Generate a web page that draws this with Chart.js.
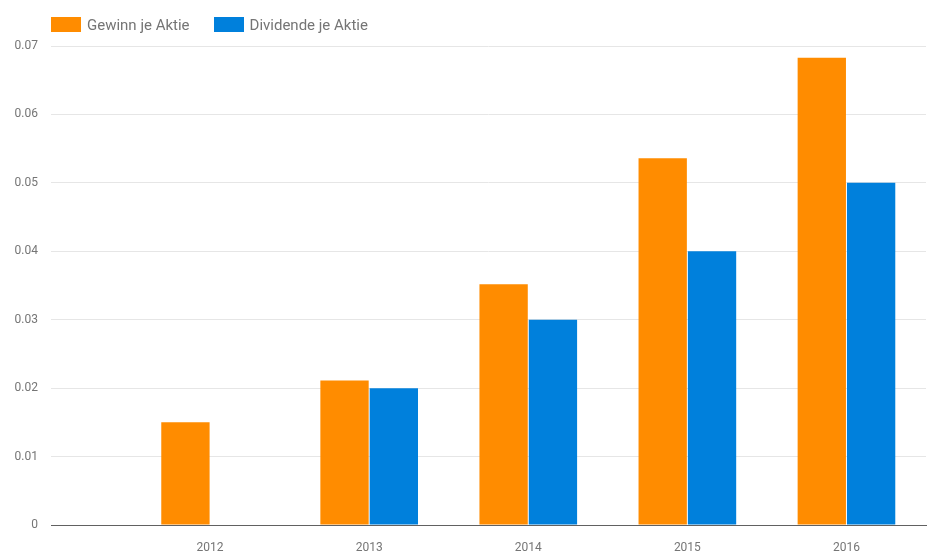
<!DOCTYPE html>
<html>
<head>
<meta charset="utf-8">
<script src="https://cdn.jsdelivr.net/npm/chart.js@4"></script>
<style>
  body { margin: 0; background: #fff; }
  #wrap { position: relative; width: 949px; height: 552px; }
  #legend { position: absolute; left: 51px; top: 17px; font: 15px Roboto, sans-serif; color: #757575; display: flex; }
  .item { display: flex; align-items: center; margin-right: 24px; height: 15px; }
  .box { display: block; flex: none; width: 30px; height: 15px; margin-right: 6px; }
</style>
</head>
<body>
<div id="wrap">
  <canvas id="barChart" width="949" height="552"></canvas>
  <div id="legend"></div>
</div>
<script>
// chart data
let years = [2012, 2013, 2014, 2015, 2016];
let gewinn = [0.015, 0.0211, 0.0352, 0.0536, 0.0683];
let dividende = [null, 0.02, 0.03, 0.04, 0.05];
let seriesNames = [`Gewinn je Aktie`, `Dividende je Aktie`];
let seriesColors = ["#ff8c00", "#0080dc"];

// html legend
let legend = document.getElementById("legend");
seriesNames.map((name, i) => {
  let item = document.createElement("div");
  item.className = "item";
  item.innerHTML = `<span class="box" style="background:${seriesColors[i]}"></span>${name}`;
  legend.appendChild(item);
});

const tickFont = { family: "Roboto", size: 12 };

const configBarChart = {
  type: "bar",
  data: {
    datasets: [
      {
        label: seriesNames[0],
        data: years.map((y, i) => ({ x: y, y: gewinn[i] })),
        backgroundColor: seriesColors[0],
      },
      {
        label: seriesNames[1],
        data: years.map((y, i) => ({ x: y, y: dividende[i] })),
        backgroundColor: seriesColors[1],
      },
    ],
  },
  options: {
    responsive: false,
    animation: false,
    categoryPercentage: 0.62,
    barPercentage: 0.98,
    layout: { padding: { top: 46, right: 23, left: 0, bottom: 0 } },
    plugins: {
      legend: { display: false },
      tooltip: { enabled: false },
    },
    scales: {
      x: {
        type: "linear",
        offset: false,
        min: 2011,
        max: 2016.5,
        afterBuildTicks: (scale) => {
          scale.ticks = years.map((y) => ({ value: y }));
        },
        afterFit: (scale) => {
          scale.height = 27;
        },
        grid: { display: false },
        border: { display: true, color: "#616161", width: 1 },
        ticks: {
          font: tickFont,
          color: "#757575",
          padding: 8,
          maxRotation: 0,
          callback: (v) => String(v),
        },
      },
      y: {
        min: 0,
        max: 0.07,
        afterFit: (scale) => {
          scale.width = 51;
        },
        grid: { color: "#e6e6e6", drawTicks: false },
        border: { display: false },
        ticks: {
          stepSize: 0.01,
          font: tickFont,
          color: "#757575",
          padding: 13,
          callback: (v) => String(+v.toFixed(2)),
        },
      },
    },
  },
};
const barChart = new Chart(document.getElementById("barChart"), configBarChart);
</script>
</body>
</html>
